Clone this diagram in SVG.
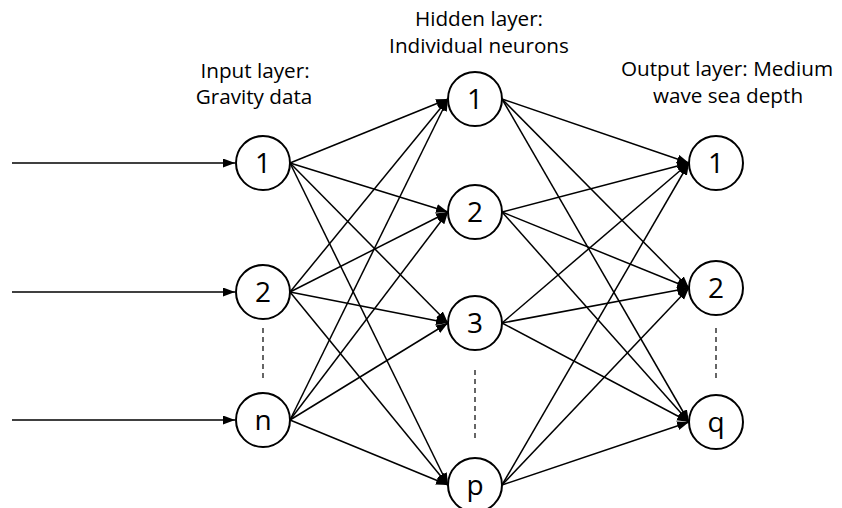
<svg xmlns="http://www.w3.org/2000/svg" width="842" height="508" viewBox="0 0 842 508">
<style>
.node circle{fill:#fff;stroke:#000;stroke-width:2}
.node text{font-family:"Open Sans","Liberation Sans",sans-serif;font-size:28px;text-anchor:middle;fill:#000}
.lbl{font-family:"Open Sans","Liberation Sans",sans-serif;font-size:20.7px;text-anchor:middle;fill:#000}
.edge{stroke:#000;stroke-width:1.5;fill:none;marker-end:url(#arr)}
.dash{stroke:#000;stroke-width:1.2;stroke-dasharray:5,4;fill:none}
</style>
<defs>
<marker id="arr" markerUnits="userSpaceOnUse" markerWidth="13" markerHeight="10" refX="12" refY="4.5" orient="auto">
<path d="M0,0 L12,4.5 L0,9 z" fill="#000"/>
</marker>
</defs>
<rect width="842" height="508" fill="#fff"/>
<g id="labels">
<text class="lbl" x="255" y="78">Input layer:</text>
<text class="lbl" x="254" y="104">Gravity data</text>
<text class="lbl" x="479" y="26">Hidden layer:</text>
<text class="lbl" x="479" y="53">Individual neurons</text>
<text class="lbl" x="727" y="76">Output layer: Medium</text>
<text class="lbl" x="728" y="103">wave sea depth</text>
</g>
<g id="connectors">
<line class="edge" x1="12" y1="163" x2="235" y2="163"/>
<line class="edge" x1="12" y1="292" x2="235" y2="292"/>
<line class="edge" x1="12" y1="420" x2="235" y2="420"/>
<line class="edge" x1="290" y1="163" x2="448" y2="99"/>
<line class="edge" x1="290" y1="163" x2="448" y2="212"/>
<line class="edge" x1="290" y1="163" x2="448" y2="323"/>
<line class="edge" x1="290" y1="163" x2="448" y2="485"/>
<line class="edge" x1="290" y1="292" x2="448" y2="99"/>
<line class="edge" x1="290" y1="292" x2="448" y2="212"/>
<line class="edge" x1="290" y1="292" x2="448" y2="323"/>
<line class="edge" x1="290" y1="292" x2="448" y2="485"/>
<line class="edge" x1="290" y1="420" x2="448" y2="99"/>
<line class="edge" x1="290" y1="420" x2="448" y2="212"/>
<line class="edge" x1="290" y1="420" x2="448" y2="323"/>
<line class="edge" x1="290" y1="420" x2="448" y2="485"/>
<line class="edge" x1="502" y1="99" x2="689" y2="163"/>
<line class="edge" x1="502" y1="99" x2="689" y2="288"/>
<line class="edge" x1="502" y1="99" x2="689" y2="422"/>
<line class="edge" x1="502" y1="212" x2="689" y2="163"/>
<line class="edge" x1="502" y1="212" x2="689" y2="288"/>
<line class="edge" x1="502" y1="212" x2="689" y2="422"/>
<line class="edge" x1="502" y1="323" x2="689" y2="163"/>
<line class="edge" x1="502" y1="323" x2="689" y2="288"/>
<line class="edge" x1="502" y1="323" x2="689" y2="422"/>
<line class="edge" x1="502" y1="485" x2="689" y2="163"/>
<line class="edge" x1="502" y1="485" x2="689" y2="288"/>
<line class="edge" x1="502" y1="485" x2="689" y2="422"/>
<line class="dash" x1="263" y1="328" x2="263" y2="378"/>
<line class="dash" x1="475" y1="370" x2="475" y2="438"/>
<line class="dash" x1="716" y1="328" x2="716" y2="378"/>
</g>
<g id="in1" class="node"><circle cx="263" cy="163" r="27"/><text x="263" y="173">1</text></g>
<g id="in2" class="node"><circle cx="263" cy="292" r="27"/><text x="263" y="302">2</text></g>
<g id="inn" class="node"><circle cx="263" cy="420" r="27"/><text x="263" y="430">n</text></g>
<g id="h1" class="node"><circle cx="475" cy="99" r="27"/><text x="475" y="109">1</text></g>
<g id="h2" class="node"><circle cx="475" cy="212" r="27"/><text x="475" y="222">2</text></g>
<g id="h3" class="node"><circle cx="475" cy="323" r="27"/><text x="475" y="333">3</text></g>
<g id="hp" class="node"><circle cx="475" cy="485" r="27"/><text x="475" y="495">p</text></g>
<g id="o1" class="node"><circle cx="716" cy="163" r="27"/><text x="716" y="173">1</text></g>
<g id="o2" class="node"><circle cx="716" cy="288" r="27"/><text x="716" y="298">2</text></g>
<g id="oq" class="node"><circle cx="716" cy="422" r="27"/><text x="716" y="432">q</text></g>
</svg>
